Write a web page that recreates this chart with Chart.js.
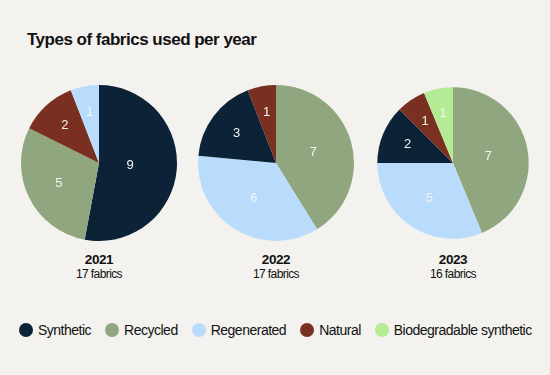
<!DOCTYPE html>
<html><head><meta charset="utf-8">
<script src="https://cdn.jsdelivr.net/npm/chart.js@4.4.1/dist/chart.umd.min.js"></script>
<style>
html,body{margin:0;padding:0;background:#f3f2ee;}
#wrap{position:relative;width:550px;height:375px;overflow:hidden;background:#f3f2ee;font-family:"Liberation Sans",Arial,sans-serif;color:#111;}
#title{position:absolute;left:27px;top:30px;font-size:17px;font-weight:700;letter-spacing:-0.5px;white-space:nowrap;line-height:20px;}
.pie{position:absolute;width:170px;height:170px;}
.cap{position:absolute;width:170px;text-align:center;}
.yr{font-size:13.5px;font-weight:700;letter-spacing:-0.4px;line-height:14px;}
.sub{font-size:12px;letter-spacing:-0.6px;line-height:14px;}
#legend{position:absolute;left:19px;top:322px;height:16px;display:flex;align-items:center;font-size:14px;letter-spacing:-0.5px;white-space:nowrap;line-height:16px;}
.li{display:flex;align-items:center;margin-right:14px;}
.dot{width:14px;height:14px;border-radius:50%;margin-right:5px;}
</style></head>
<body><div id="wrap">
<div id="title">Types of fabrics used per year</div>
<canvas id="p0" class="pie" width="170" height="170"></canvas>
<canvas id="p1" class="pie" width="170" height="170"></canvas>
<canvas id="p2" class="pie" width="170" height="170"></canvas>
<div id="caps"></div>
<div id="legend"></div>
</div>
<script>
const categories = ['Synthetic','Recycled','Regenerated','Natural','Biodegradable synthetic'];
const colors = ['#0c2237','#8fa67f','#b9dcfd','#7a3021','#b4ec95'];
const years = ['2021','2022','2023'];
const values2021 = [9,5,1,2,0];
const values2022 = [3,7,6,1,0];
const values2023 = [2,7,5,1,1];
const yearValues = [values2021, values2022, values2023];
const centersX = [99,276,453];
const centerY = 162.5;
const baseRadius = 78, baseTotal = 17;

const labelPlugin = {
  id:'sliceLabels',
  afterDatasetsDraw(chart){
    const ctx = chart.ctx;
    const meta = chart.getDatasetMeta(0);
    const ds = chart.data.datasets[0];
    ctx.save();
    ctx.fillStyle = '#f4f4f2';
    ctx.font = '13px "Liberation Sans", Arial, sans-serif';
    ctx.textAlign = 'center'; ctx.textBaseline = 'middle';
    meta.data.forEach((arc,i)=>{
      const p = arc.getProps(['x','y','startAngle','endAngle','outerRadius'],true);
      const mid = (p.startAngle+p.endAngle)/2;
      const a = (p.endAngle-p.startAngle)/2;
      const d = 2*p.outerRadius*Math.sin(a)/(3*a);
      ctx.fillText(String(ds.data[i]), p.x+Math.cos(mid)*d, p.y+Math.sin(mid)*d);
    });
    ctx.restore();
  }
};

const caps = document.getElementById('caps');
yearValues.forEach((vals,k)=>{
  const items = categories.map((c,i)=>({c, v:vals[i], col:colors[i]})).filter(o=>o.v>0);
  items.sort((a,b)=>b.v-a.v);
  const total = vals.reduce((s,v)=>s+v,0);
  const r = baseRadius*Math.sqrt(total/baseTotal);
  const cv = document.getElementById('p'+k);
  cv.style.left = (centersX[k]-85)+'px';
  cv.style.top = (centerY-85)+'px';
  new Chart(cv,{
    type:'pie',
    data:{labels:items.map(o=>o.c),datasets:[{data:items.map(o=>o.v),backgroundColor:items.map(o=>o.col),borderWidth:0}]},
    options:{responsive:false,animation:false,radius:r,layout:{padding:0},
      plugins:{legend:{display:false},tooltip:{enabled:false}}},
    plugins:[labelPlugin]
  });
  const cap = document.createElement('div');
  cap.className='cap';
  cap.style.left=(centersX[k]-85)+'px';
  cap.style.top='253px';
  cap.innerHTML='<div class="yr">'+years[k]+'</div><div class="sub">'+total+' fabrics</div>';
  caps.appendChild(cap);
});

const leg = document.getElementById('legend');
categories.forEach((c,i)=>{
  const d=document.createElement('div');d.className='li';
  d.innerHTML='<span class="dot" style="background:'+colors[i]+'"></span><span>'+c+'</span>';
  leg.appendChild(d);
});
</script>
</body></html>
